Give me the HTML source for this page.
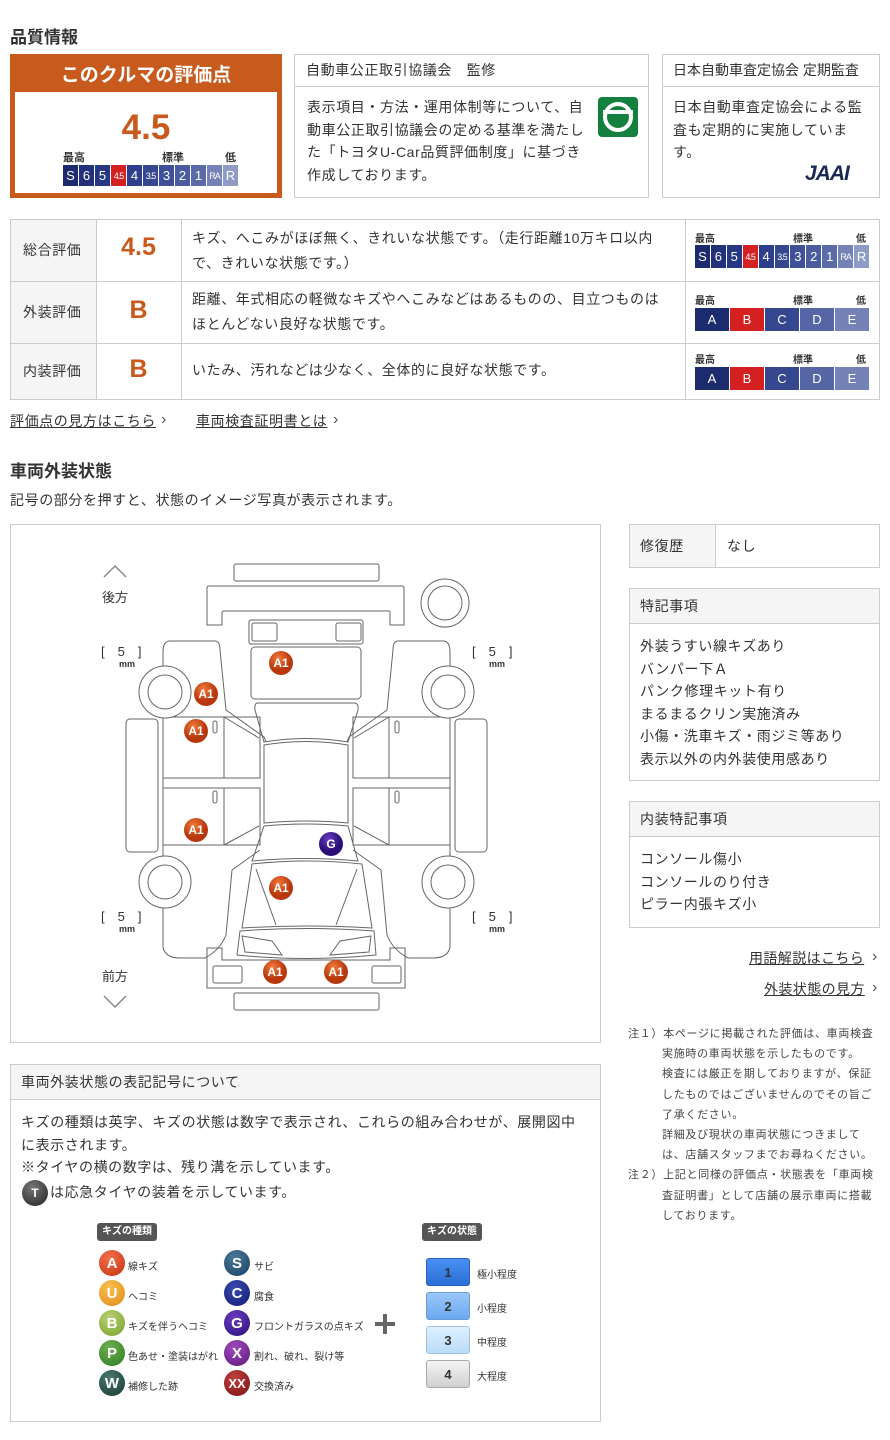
<!DOCTYPE html>
<html><head><meta charset="utf-8"><style>
*{margin:0;padding:0;box-sizing:border-box}
body{width:890px;height:1440px;background:#fff;position:relative;font-family:"Liberation Sans","Noto Sans CJK JP",sans-serif;color:#333;overflow:hidden}
.a{position:absolute}
.h{font-size:17px;font-weight:bold;color:#333}
.t{font-size:14px;line-height:22.5px;color:#333;letter-spacing:0.6px}
.box{border:1px solid #ccc}
.sc{position:absolute;display:flex;gap:1px}
.sc div{flex:1;color:#fff;text-align:center;font-size:13px;display:flex;align-items:center;justify-content:center}
.sm{font-size:9px!important;letter-spacing:-1px}
.lab{position:absolute;font-size:10px;font-weight:bold;color:#333}
.lnk{font-size:14px;color:#333;text-decoration:underline;letter-spacing:0.6px}
.cir{position:absolute;width:26px;height:26px;border-radius:50%;color:#fff;font-weight:bold;font-size:15px;display:flex;align-items:center;justify-content:center;font-family:"Liberation Sans",sans-serif}
.ll{position:absolute;font-size:10px;color:#333}
.st{position:absolute;width:44px;height:28px;border-radius:3px;font-size:13px;font-weight:bold;color:#333;display:flex;align-items:center;justify-content:center;border:1px solid #999}
.chev{position:absolute;font-size:16px;color:#555}
</style></head><body>

<div class="a h" style="left:10px;top:23px">品質情報</div>

<div class="a" style="left:10px;top:54px;width:272px;height:144px;background:#c85a1e"></div>
<div class="a" style="left:10px;top:60px;width:272px;text-align:center;color:#fff;font-weight:bold;font-size:19px">このクルマの評価点</div>
<div class="a" style="left:15px;top:92px;width:262px;height:101px;background:#fff"></div>
<div class="a" style="left:10px;top:108px;width:272px;text-align:center;color:#c85a1e;font-weight:bold;font-size:35px;line-height:40px">4.5</div>
<div class="lab" style="left:63px;top:149px;font-size:11px">最高</div>
<div class="lab" style="left:162px;top:149px;font-size:11px">標準</div>
<div class="lab" style="left:225px;top:149px;font-size:11px">低</div>
<div class="sc" style="left:63px;top:165px;width:175px;height:21px">
<div style="background:#1c2a6e">S</div><div style="background:#22317a">6</div><div style="background:#263783">5</div><div class="sm" style="background:#d42020">4.5</div><div style="background:#2d3f8a">4</div><div class="sm" style="background:#34478f">3.5</div><div style="background:#3d5098">3</div><div style="background:#4a5d9f">2</div><div style="background:#5a6ba8">1</div><div class="sm" style="background:#7482b5">RA</div><div style="background:#8e9bc4">R</div></div>

<div class="a box" style="left:294px;top:54px;width:355px;height:144px"></div>
<div class="a" style="left:295px;top:86px;width:353px;border-top:1px solid #ccc"></div>
<div class="a t" style="left:306px;top:59px">自動車公正取引協議会　監修</div>
<div class="a t" style="left:307px;top:96px;width:282px">表示項目・方法・運用体制等について、自動車公正取引協議会の定める基準を満たした「トヨタU-Car品質評価制度」に基づき作成しております。</div>
<div class="a" style="left:598px;top:97px;width:40px;height:40px;background:#14803e;border-radius:4px"></div>
<div class="a" style="left:603px;top:102px;width:30px;height:30px;border-radius:50%;border:4px solid #fff"></div>
<div class="a" style="left:603px;top:110px;width:30px;height:4px;background:#fff"></div>

<div class="a box" style="left:662px;top:54px;width:218px;height:144px"></div>
<div class="a" style="left:663px;top:86px;width:216px;border-top:1px solid #ccc"></div>
<div class="a t" style="left:673px;top:59px;letter-spacing:0">日本自動車査定協会 定期監査</div>
<div class="a t" style="left:673px;top:96px;width:194px">日本自動車査定協会による監査も定期的に実施しています。</div>
<div class="a" style="left:805px;top:162px;font-size:21px;font-weight:900;font-style:italic;color:#1b2a55;letter-spacing:-1px">JAAI</div>

<div class="a box" style="left:10px;top:219px;width:870px;height:181px"></div>
<div class="a" style="left:11px;top:220px;width:85px;height:179px;background:#f5f5f5"></div>
<div class="a" style="left:10px;top:281px;width:870px;border-top:1px solid #ccc"></div>
<div class="a" style="left:10px;top:343px;width:870px;border-top:1px solid #ccc"></div>
<div class="a" style="left:96px;top:219px;height:181px;border-left:1px solid #ccc"></div>
<div class="a" style="left:181px;top:219px;height:181px;border-left:1px solid #ccc"></div>
<div class="a" style="left:685px;top:219px;height:181px;border-left:1px solid #ccc"></div>
<div class="a t" style="left:23px;top:239px">総合評価</div>
<div class="a t" style="left:23px;top:301px">外装評価</div>
<div class="a t" style="left:23px;top:360px">内装評価</div>
<div class="a" style="left:96px;top:233px;width:85px;text-align:center;color:#c85a1e;font-weight:bold;font-size:25px">4.5</div>
<div class="a" style="left:96px;top:296px;width:85px;text-align:center;color:#c85a1e;font-weight:bold;font-size:25px">B</div>
<div class="a" style="left:96px;top:355px;width:85px;text-align:center;color:#c85a1e;font-weight:bold;font-size:25px">B</div>
<div class="a t" style="left:192px;top:226px;width:480px;line-height:25px">キズ、へこみがほぼ無く、きれいな状態です。（走行距離10万キロ以内で、きれいな状態です。）</div>
<div class="a t" style="left:192px;top:287px;width:480px;line-height:25px">距離、年式相応の軽微なキズやへこみなどはあるものの、目立つものはほとんどない良好な状態です。</div>
<div class="a t" style="left:192px;top:359px">いたみ、汚れなどは少なく、全体的に良好な状態です。</div>

<div class="lab" style="left:695px;top:230px">最高</div><div class="lab" style="left:793px;top:230px">標準</div><div class="lab" style="left:856px;top:230px">低</div>
<div class="sc" style="left:695px;top:245px;width:174px;height:23px">
<div style="background:#1c2a6e">S</div><div style="background:#22317a">6</div><div style="background:#263783">5</div><div class="sm" style="background:#d42020">4.5</div><div style="background:#2d3f8a">4</div><div class="sm" style="background:#34478f">3.5</div><div style="background:#3d5098">3</div><div style="background:#4a5d9f">2</div><div style="background:#5a6ba8">1</div><div class="sm" style="background:#7482b5">RA</div><div style="background:#8e9bc4">R</div></div>
<div class="lab" style="left:695px;top:292px">最高</div><div class="lab" style="left:793px;top:292px">標準</div><div class="lab" style="left:856px;top:292px">低</div>
<div class="sc" style="left:695px;top:308px;width:174px;height:23px">
<div style="background:#1c2a6e">A</div><div style="background:#d42020">B</div><div style="background:#34478f">C</div><div style="background:#5565a5">D</div><div style="background:#7482b5">E</div></div>
<div class="lab" style="left:695px;top:351px">最高</div><div class="lab" style="left:793px;top:351px">標準</div><div class="lab" style="left:856px;top:351px">低</div>
<div class="sc" style="left:695px;top:367px;width:174px;height:23px">
<div style="background:#1c2a6e">A</div><div style="background:#d42020">B</div><div style="background:#34478f">C</div><div style="background:#5565a5">D</div><div style="background:#7482b5">E</div></div>

<div class="a lnk" style="left:10px;top:411px">評価点の見方はこちら</div><div class="chev" style="left:161px;top:411px">›</div>
<div class="a lnk" style="left:196px;top:411px">車両検査証明書とは</div><div class="chev" style="left:333px;top:411px">›</div>

<div class="a h" style="left:10px;top:457px">車両外装状態</div>
<div class="a t" style="left:10px;top:489px">記号の部分を押すと、状態のイメージ写真が表示されます。</div>

<div class="a box" style="left:10px;top:524px;width:591px;height:519px"></div>
<svg class="a" style="left:0;top:0" width="610" height="1050" viewBox="0 0 610 1050" fill="none" stroke="#666" stroke-width="1">
<path d="M104 577 L115 566 L126 577" stroke="#888" stroke-width="1.5"/>
<path d="M104 996 L115 1007 L126 996" stroke="#888" stroke-width="1.5"/>
<rect x="234" y="564" width="145" height="17" rx="2"/>
<path d="M209 586 H402 Q404 586 404 588 V625 H390 V612 Q390 611 388 611 H224 Q222 611 222 613 V625 H207 V588 Q207 586 209 586Z"/>
<rect x="249" y="620" width="114" height="24" rx="2"/>
<rect x="252" y="623" width="25" height="18" rx="2"/><rect x="336" y="623" width="25" height="18" rx="2"/>
<rect x="251" y="647" width="110" height="52" rx="4"/>
<path d="M258 703 H354 Q359 703 358 710 L348 742 Q306 735 264 742 L255 710 Q254 703 258 703Z"/>
<path d="M264 745 Q306 738 348 745 V823 Q306 819 264 823 Z"/>
<path d="M264 826 Q306 822 348 826 L358 861 Q306 856 252 861 Z"/>
<path d="M252 864 Q306 858 362 864 L372 928 Q306 924 242 928 Z"/>
<path d="M256 869 L276 925 M357 869 L336 925"/>
<path d="M240 931 Q306 926 374 931 L376 955 Q306 962 237 955 Z"/>
<path d="M242 936 L272 941 L282 955 L245 952Z M371 936 L340 941 L330 955 L369 952Z"/>
<path d="M207 948 H222 V960 H390 V948 H405 V988 H207 Z"/>
<rect x="213" y="966" width="29" height="17" rx="2"/><rect x="372" y="966" width="29" height="17" rx="2"/>
<rect x="234" y="993" width="145" height="17" rx="2"/>
<rect x="126" y="719" width="32" height="133" rx="4"/>
<path d="M163 652 Q163 641 170 641 H215 Q220 641 220 650 L226 710 L264 737 L266 742"/>
<path d="M163 652 V668 M163 718 V947 Q165 958 180 958 H205 Q220 950 226 935 L232 870 L260 850"/>
<rect x="163" y="717" width="97" height="61"/><line x1="224" y1="717" x2="224" y2="778"/>
<path d="M224 717 L259 738 M224 778 L259 778"/>
<rect x="163" y="788" width="97" height="57"/><line x1="224" y1="788" x2="224" y2="845"/>
<path d="M224 845 L259 826"/>
<rect x="213" y="721" width="4" height="12" rx="2"/><rect x="213" y="791" width="4" height="12" rx="2"/>
<circle cx="165" cy="692" r="26" fill="#fff"/><circle cx="165" cy="692" r="17"/>
<circle cx="165" cy="882" r="26" fill="#fff"/><circle cx="165" cy="882" r="17"/>
<rect x="455" y="719" width="32" height="133" rx="4"/>
<path d="M450 652 Q450 641 443 641 H398 Q393 641 393 650 L387 710 L349 737 L347 742"/>
<path d="M450 652 V668 M450 718 V947 Q448 958 433 958 H408 Q393 950 387 935 L381 870 L353 850"/>
<rect x="353" y="717" width="97" height="61"/><line x1="389" y1="717" x2="389" y2="778"/>
<path d="M389 717 L354 738"/>
<rect x="353" y="788" width="97" height="57"/><line x1="389" y1="788" x2="389" y2="845"/>
<path d="M389 845 L354 826"/>
<rect x="395" y="721" width="4" height="12" rx="2"/><rect x="395" y="791" width="4" height="12" rx="2"/>
<circle cx="448" cy="692" r="26" fill="#fff"/><circle cx="448" cy="692" r="17"/>
<circle cx="448" cy="882" r="26" fill="#fff"/><circle cx="448" cy="882" r="17"/>
<circle cx="445" cy="603" r="24"/><circle cx="445" cy="603" r="17"/>
<defs><radialGradient id="ga" cx="40%" cy="30%"><stop offset="0" stop-color="#f27a3a"/><stop offset="1" stop-color="#b8380e"/></radialGradient>
<radialGradient id="gg" cx="40%" cy="30%"><stop offset="0" stop-color="#6a3cc0"/><stop offset="1" stop-color="#2a0e78"/></radialGradient></defs>
<g stroke="none" font-family="Liberation Sans" font-size="12" font-weight="bold" text-anchor="middle">
<g fill="url(#ga)"><circle cx="281" cy="663" r="12"/><circle cx="206" cy="694" r="12"/><circle cx="196" cy="731" r="12"/><circle cx="196" cy="830" r="12"/><circle cx="281" cy="888" r="12"/><circle cx="275" cy="972" r="12"/><circle cx="336" cy="972" r="12"/></g>
<circle cx="331" cy="844" r="12" fill="url(#gg)"/>
<g fill="#fff"><text x="281" y="667">A1</text><text x="206" y="698">A1</text><text x="196" y="735">A1</text><text x="196" y="834">A1</text><text x="281" y="892">A1</text><text x="275" y="976">A1</text><text x="336" y="976">A1</text><text x="331" y="848">G</text></g>
<g fill="#333" font-weight="normal" text-anchor="start" font-size="13" font-family="Liberation Sans, Noto Sans CJK JP"><text x="102" y="602">後方</text><text x="102" y="981">前方</text>
<text x="101" y="656">[　5　]</text><text x="472" y="656">[　5　]</text><text x="101" y="921">[　5　]</text><text x="472" y="921">[　5　]</text></g>
<g fill="#333" font-size="9" text-anchor="start"><text x="119" y="667">mm</text><text x="489" y="667">mm</text><text x="119" y="932">mm</text><text x="489" y="932">mm</text></g>
</g>
</svg>

<div class="a box" style="left:629px;top:524px;width:251px;height:44px"></div>
<div class="a" style="left:630px;top:525px;width:86px;height:42px;background:#f5f5f5;border-right:1px solid #ccc"></div>
<div class="a t" style="left:640px;top:535px">修復歴</div><div class="a t" style="left:727px;top:535px">なし</div>

<div class="a box" style="left:629px;top:588px;width:251px;height:193px"></div>
<div class="a" style="left:630px;top:589px;width:249px;height:35px;background:#f5f5f5;border-bottom:1px solid #ccc"></div>
<div class="a t" style="left:640px;top:595px">特記事項</div>
<div class="a t" style="left:640px;top:635px">外装うすい線キズあり<br>バンパー下Ａ<br>パンク修理キット有り<br>まるまるクリン実施済み<br>小傷・洗車キズ・雨ジミ等あり<br>表示以外の内外装使用感あり</div>

<div class="a box" style="left:629px;top:801px;width:251px;height:127px"></div>
<div class="a" style="left:630px;top:802px;width:249px;height:35px;background:#f5f5f5;border-bottom:1px solid #ccc"></div>
<div class="a t" style="left:640px;top:808px">内装特記事項</div>
<div class="a t" style="left:640px;top:848px">コンソール傷小<br>コンソールのり付き<br>ピラー内張キズ小</div>

<div class="a lnk" style="left:749px;top:948px;letter-spacing:0.4px">用語解説はこちら</div><div class="chev" style="left:872px;top:948px">›</div>
<div class="a lnk" style="left:764px;top:979px;letter-spacing:0.4px">外装状態の見方</div><div class="chev" style="left:872px;top:979px">›</div>

<div class="a" style="left:628px;top:1024px;font-size:11px;line-height:20.2px;color:#444;width:256px;letter-spacing:0.7px">
<div>注１）本ページに掲載された評価は、車両検査</div>
<div style="padding-left:34px">実施時の車両状態を示したものです。<br>検査には厳正を期しておりますが、保証<br>したものではございませんのでその旨ご<br>了承ください。<br>詳細及び現状の車両状態につきまして<br>は、店舗スタッフまでお尋ねください。</div>
<div>注２）上記と同様の評価点・状態表を「車両検</div>
<div style="padding-left:34px">査証明書」として店舗の展示車両に搭載<br>しております。</div>
</div>

<div class="a box" style="left:10px;top:1064px;width:591px;height:358px"></div>
<div class="a" style="left:11px;top:1065px;width:589px;height:35px;background:#f5f5f5;border-bottom:1px solid #ccc"></div>
<div class="a t" style="left:21px;top:1071px">車両外装状態の表記記号について</div>
<div class="a t" style="left:21px;top:1111px;width:570px">キズの種類は英字、キズの状態は数字で表示され、これらの組み合わせが、展開図中<br>に表示されます。<br>※タイヤの横の数字は、残り溝を示しています。</div>
<div class="cir" style="left:22px;top:1180px;width:26px;height:26px;background:radial-gradient(circle at 40% 30%,#777,#222);font-size:12px">T</div>
<div class="a t" style="left:50px;top:1181px">は応急タイヤの装着を示しています。</div>

<div class="a" style="left:97px;top:1223px;width:60px;height:18px;background:#555;border-radius:3px;color:#fff;font-size:10px;font-weight:bold;text-align:center;line-height:18px">キズの種類</div>
<div class="a" style="left:422px;top:1223px;width:60px;height:18px;background:#555;border-radius:3px;color:#fff;font-size:10px;font-weight:bold;text-align:center;line-height:18px">キズの状態</div>

<div class="cir" style="left:99px;top:1250px;background:radial-gradient(circle at 40% 30%,#f2704a,#c8300e)">A</div><div class="ll" style="left:128px;top:1258px">線キズ</div>
<div class="cir" style="left:99px;top:1280px;background:radial-gradient(circle at 40% 30%,#f8c050,#e08a18)">U</div><div class="ll" style="left:128px;top:1288px">ヘコミ</div>
<div class="cir" style="left:99px;top:1310px;background:radial-gradient(circle at 40% 30%,#b8d070,#78a030)">B</div><div class="ll" style="left:128px;top:1318px">キズを伴うヘコミ</div>
<div class="cir" style="left:99px;top:1340px;background:radial-gradient(circle at 40% 30%,#6cb050,#2e7a20)">P</div><div class="ll" style="left:128px;top:1348px">色あせ・塗装はがれ</div>
<div class="cir" style="left:99px;top:1370px;background:radial-gradient(circle at 40% 30%,#4a7a70,#143a32)">W</div><div class="ll" style="left:128px;top:1378px">補修した跡</div>
<div class="cir" style="left:224px;top:1250px;background:radial-gradient(circle at 40% 30%,#4a7a9a,#1a3e5e)">S</div><div class="ll" style="left:254px;top:1258px">サビ</div>
<div class="cir" style="left:224px;top:1280px;background:radial-gradient(circle at 40% 30%,#3a4ab0,#101a70)">C</div><div class="ll" style="left:254px;top:1288px">腐食</div>
<div class="cir" style="left:224px;top:1310px;background:radial-gradient(circle at 40% 30%,#6a3cc0,#2a0e78)">G</div><div class="ll" style="left:254px;top:1318px">フロントガラスの点キズ</div>
<div class="cir" style="left:224px;top:1340px;background:radial-gradient(circle at 40% 30%,#a04ac0,#5a1878)">X</div><div class="ll" style="left:254px;top:1348px">割れ、破れ、裂け等</div>
<div class="cir" style="left:224px;top:1370px;background:radial-gradient(circle at 40% 30%,#c04040,#7a1010);font-size:13px">XX</div><div class="ll" style="left:254px;top:1378px">交換済み</div>

<div class="a" style="left:375px;top:1322px;width:20px;height:4px;background:#666"></div>
<div class="a" style="left:383px;top:1314px;width:4px;height:20px;background:#666"></div>

<div class="st" style="left:426px;top:1258px;background:linear-gradient(#4a90f0,#2a6ed8);border-color:#2a60c0">1</div><div class="ll" style="left:477px;top:1266px">極小程度</div>
<div class="st" style="left:426px;top:1292px;background:linear-gradient(#9ac8f8,#6aa8f0);border-color:#6a9ad8">2</div><div class="ll" style="left:477px;top:1300px">小程度</div>
<div class="st" style="left:426px;top:1326px;background:linear-gradient(#e0f0ff,#b8dcf8);border-color:#a0c0e0">3</div><div class="ll" style="left:477px;top:1334px">中程度</div>
<div class="st" style="left:426px;top:1360px;background:linear-gradient(#f4f4f4,#d0d0d0);border-color:#aaa">4</div><div class="ll" style="left:477px;top:1368px">大程度</div>

</body></html>
